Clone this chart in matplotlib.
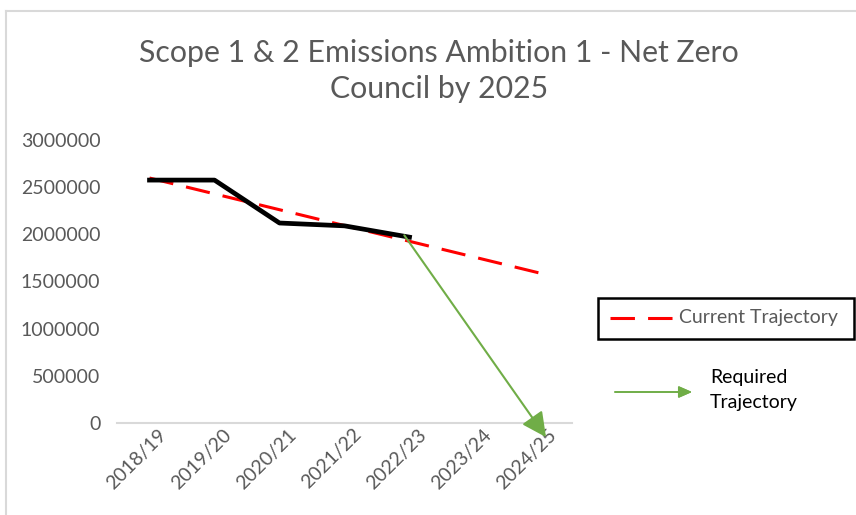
import matplotlib.pyplot as plt
import matplotlib.transforms as mtransforms
from matplotlib.lines import Line2D
from matplotlib.patches import Rectangle

years = ["2018/19", "2019/20", "2020/21", "2021/22", "2022/23", "2023/24", "2024/25"]
actual = [2575000, 2575000, 2120000, 2090000, 1970000]
current_trajectory = [2597000, 2429000, 2261000, 2093000, 1926000, 1758000, 1590000]
required_start = (3.92, 1990000)
required_end = (6.1, -150000)
yticks = [0, 500000, 1000000, 1500000, 2000000, 2500000, 3000000]

plt.rcParams['font.family'] = ['Lato', 'DejaVu Sans']
grey = '#595959'
green = '#70AD47'

fig = plt.figure(figsize=(8.56, 5.15), dpi=100)
ax = fig.add_axes([117/856, 1 - 423/515, 455/856, 283/515])

x = list(range(len(years)))
ax.plot(x, current_trajectory, color='#FF0000', lw=2.2, dashes=(8, 4.3), zorder=3)
ax.plot(x[:len(actual)], actual, color='black', lw=3.4, zorder=4)
ax.annotate("", xy=required_end, xytext=required_start, annotation_clip=False,
            arrowprops=dict(arrowstyle="-|>,head_length=1.5,head_width=0.75",
                            color=green, lw=1.5, shrinkA=0, shrinkB=0), zorder=5)

ax.set_xlim(-0.5, 6.5)
ax.set_ylim(0, 3000000)
ax.set_yticks(yticks)
ax.set_yticklabels([str(v) for v in yticks])
ax.set_xticks(x)
ax.set_xticklabels(years, rotation=45, ha='right', va='top', rotation_mode='anchor')
ax.tick_params(axis='both', length=0, labelsize=14, labelcolor=grey)
ax.tick_params(axis='y', pad=12)
ax.tick_params(axis='x', pad=2)
# shift x labels slightly right like the original
offset = mtransforms.ScaledTranslation(8/100, 0, fig.dpi_scale_trans)
for lbl in ax.get_xticklabels():
    lbl.set_transform(lbl.get_transform() + offset)
for s in ['top', 'right', 'left']:
    ax.spines[s].set_visible(False)
ax.spines['bottom'].set_color('#D9D9D9')
ax.spines['bottom'].set_linewidth(1.5)

# chart border
fig.add_artist(Line2D([6/856, 6/856], [0, 1 - 11/515], color='#D9D9D9', lw=1.5))
fig.add_artist(Line2D([6/856, 1], [1 - 11/515, 1 - 11/515], color='#D9D9D9', lw=1.5))

fig.text(439/856, 1 - 71/515, "Scope 1 & 2 Emissions Ambition 1 - Net Zero\nCouncil by 2025",
         ha='center', va='center', fontsize=21.8, color=grey, linespacing=1.35)

# legend box
fig.add_artist(Rectangle((598/856, 1 - 339/515), 256/856, 41/515, fill=False,
                         edgecolor='black', lw=1.8, transform=fig.transFigure))
fig.add_artist(Line2D([610/856, 674/856], [1 - 318/515, 1 - 318/515], color='#FF0000',
                      lw=2.2, dashes=(8, 4.3)))
fig.text(679/856, 1 - 318/515, "Current Trajectory", ha='left', va='center',
         fontsize=14, color=grey)

fig.add_artist(plt.annotate("", xy=(692/856, 1 - 392/515), xytext=(615/856, 1 - 392/515),
                            xycoords='figure fraction', textcoords='figure fraction',
                            arrowprops=dict(arrowstyle="-|>,head_length=0.8,head_width=0.35",
                                            color=green, lw=1.2, shrinkA=0, shrinkB=0)))
fig.text(710/856, 1 - 390/515, "Required\nTrajectory", ha='left', va='center',
         fontsize=14, color='black', linespacing=1.55)

fig.savefig("out.png", dpi=100)
